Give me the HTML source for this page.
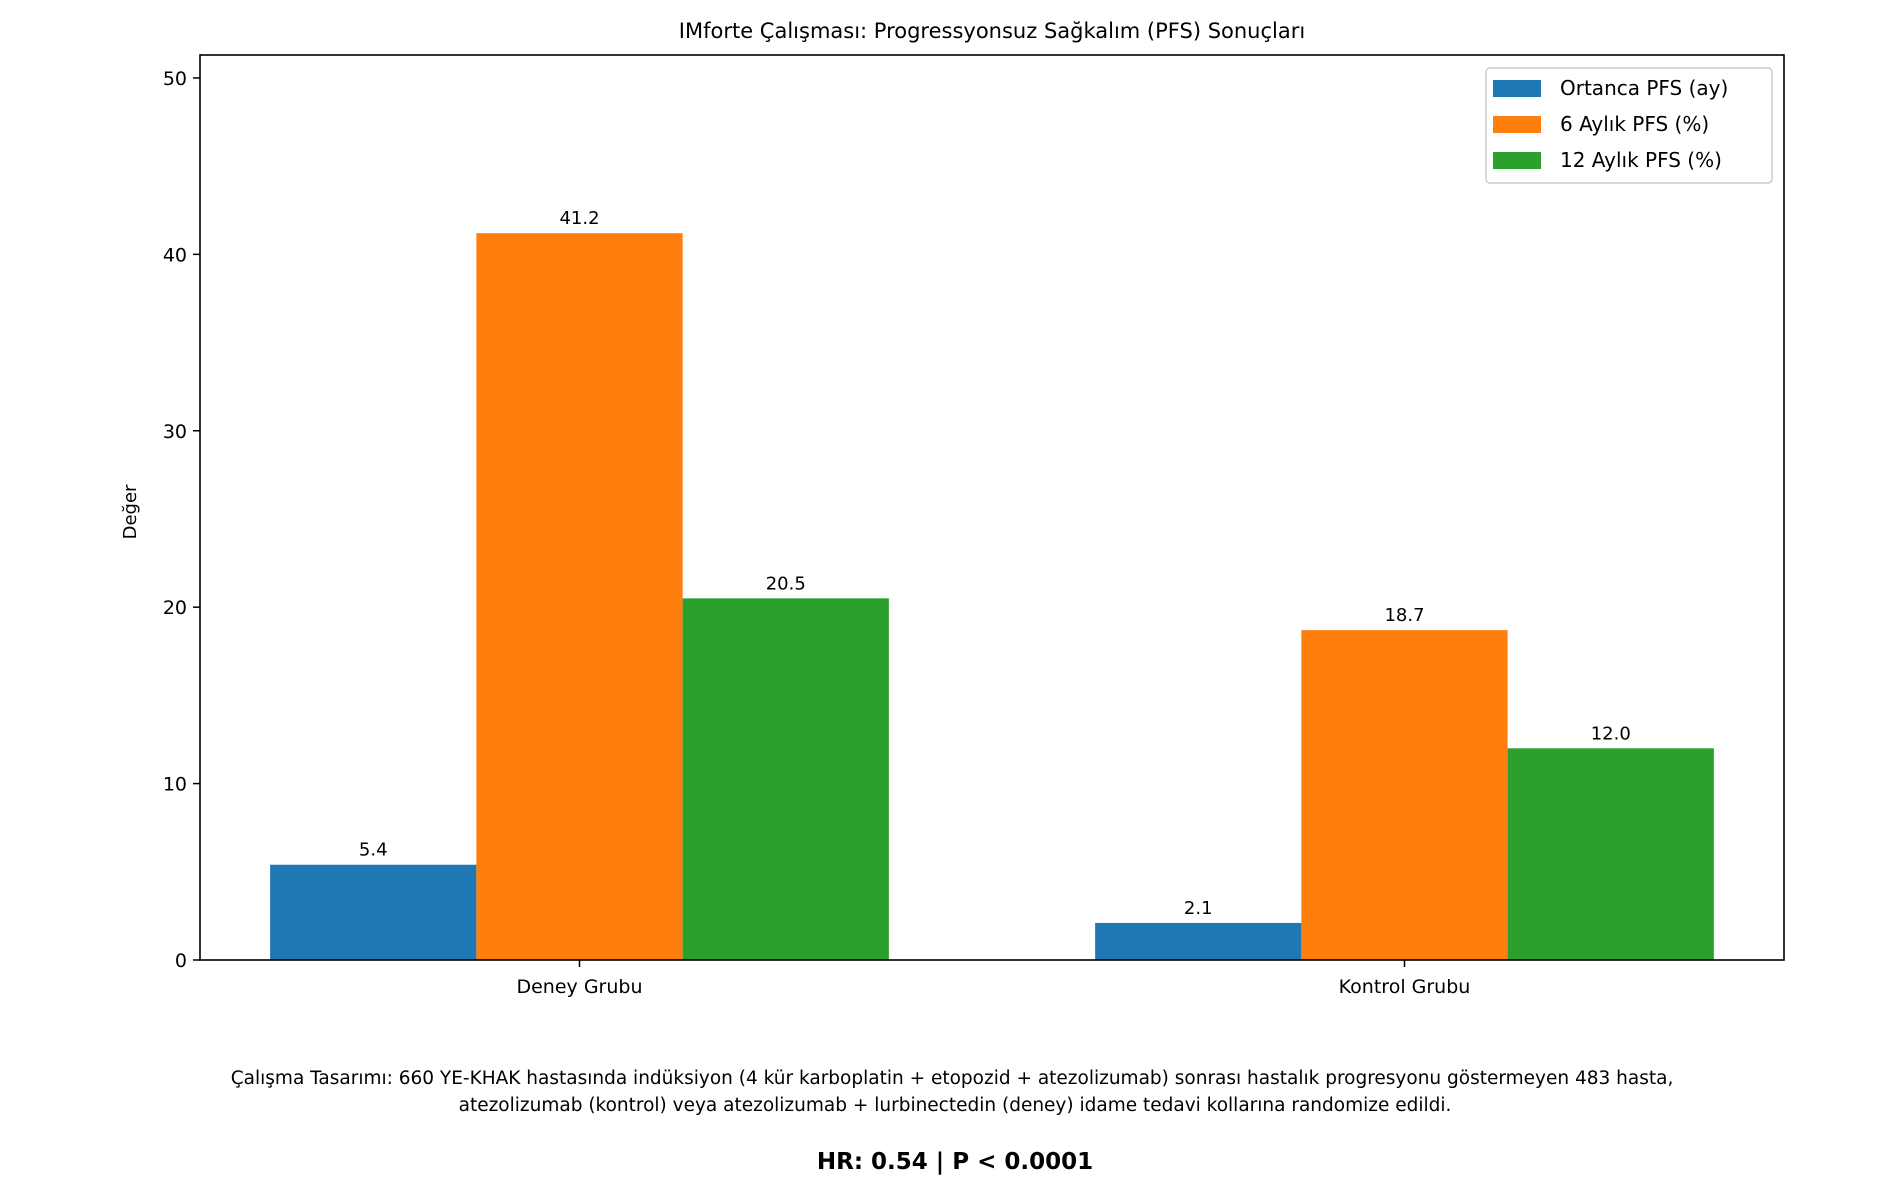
<!DOCTYPE html>
<html><head><meta charset="utf-8">
<style>
body{margin:0;background:#fff;}
svg text{font-family:"DejaVu Sans","Liberation Sans",sans-serif;fill:#000;}
</style></head>
<body>
<svg id="chart" width="1900" height="1189" viewBox="0 0 1900 1189" xmlns="http://www.w3.org/2000/svg">
<rect width="1900" height="1189" fill="#fff"/>
<text x="992" y="38" font-size="21" text-anchor="middle">IMforte Çalışması: Progressyonsuz Sağkalım (PFS) Sonuçları</text>
<g id="bars"></g>
<g id="axes"></g>
<text transform="translate(136,512) rotate(-90)" font-size="18" text-anchor="middle">Değer</text>
<g>
<rect x="1486" y="68" width="286" height="115" rx="4" fill="#fff" stroke="#ccc" stroke-width="1.5"/>
<rect x="1493" y="80" width="48" height="17" fill="#1f77b4"/>
<text x="1560" y="95" font-size="20">Ortanca PFS (ay)</text>
<rect x="1493" y="116" width="48" height="17" fill="#ff7f0e"/>
<text x="1560" y="131" font-size="20">6 Aylık PFS (%)</text>
<rect x="1493" y="152" width="48" height="17" fill="#2ca02c"/>
<text x="1560" y="167" font-size="20">12 Aylık PFS (%)</text>
</g>
<text font-size="18.5" text-anchor="middle">
<tspan x="955" y="1084">Çalışma Tasarımı: 660 YE-KHAK hastasında indüksiyon (4 kür karboplatin + etopozid + atezolizumab) sonrası hastalık progresyonu göstermeyen 483 hasta,</tspan>
<tspan x="955" y="1111">atezolizumab (kontrol) veya atezolizumab + lurbinectedin (deney) idame tedavi kollarına randomize edildi.</tspan>
</text>
<text x="955" y="1169" font-size="23" font-weight="bold" text-anchor="middle">HR: 0.54 | P &lt; 0.0001</text>
</svg>
<script>
const categories = ["Deney Grubu", "Kontrol Grubu"];
const seriesNames = ["Ortanca PFS (ay)", "6 Aylık PFS (%)", "12 Aylık PFS (%)"];
const medianPFS = [5.4, 2.1];
const pfs6 = [41.2, 18.7];
const pfs12 = [20.5, 12.0];
const yTicks = [0, 10, 20, 30, 40, 50];

const NS = "http://www.w3.org/2000/svg";
const L = 200, R = 1784, T = 55, B = 960;
const xMin = -0.46, xMax = 1.46, yMax = 51.3;
const xs = v => L + (v - xMin) / (xMax - xMin) * (R - L);
const ys = v => B - v / yMax * (B - T);
const colors = ["#1f77b4", "#ff7f0e", "#2ca02c"];
const keys = ["median", "pfs6", "pfs12"];
const series = [medianPFS, pfs6, pfs12];
const bw = 0.25;
const bars = document.getElementById("bars");
const axes = document.getElementById("axes");
function mk(tag, attrs, parent){const e=document.createElementNS(NS,tag);for(const k in attrs)e.setAttribute(k,attrs[k]);parent.appendChild(e);return e;}

series.forEach((vals, s) => {
  vals.forEach((v, i) => {
    const cx = i + (s - 1) * bw;
    const x0 = xs(cx - bw / 2), x1 = xs(cx + bw / 2);
    const r = mk("rect", {x: x0, y: ys(v), width: x1 - x0, height: ys(0) - ys(v), fill: colors[s]}, bars);
    
    
    const t = mk("text", {x: xs(cx), y: ys(v) - 9, "font-size": "18", "text-anchor": "middle"}, bars);
    
    
    t.textContent = v.toFixed(1);
  });
});

const frame = mk("rect", {x: L, y: T, width: R - L, height: B - T, fill: "none", stroke: "#000", "stroke-width": 1.6}, axes);



yTicks.forEach(v => {
  mk("line", {x1: L - 7, x2: L, y1: ys(v), y2: ys(v), stroke: "#000", "stroke-width": 1.5}, axes);
  const t = mk("text", {x: L - 13, y: ys(v) + 7, "font-size": "19", "text-anchor": "end"}, axes);
  
  
  t.textContent = v;
});

categories.forEach((c, i) => {
  mk("line", {x1: xs(i), x2: xs(i), y1: B, y2: B + 7, stroke: "#000", "stroke-width": 1.5}, axes);
  const t = mk("text", {x: xs(i), y: B + 33, "font-size": "19", "text-anchor": "middle"}, axes);
  
  
  t.textContent = c;
});
</script>
</body></html>
